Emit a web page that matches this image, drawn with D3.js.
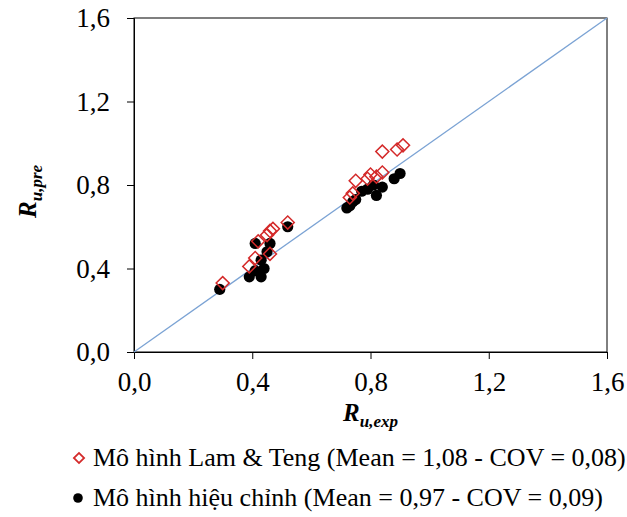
<!DOCTYPE html>
<html>
<head>
<meta charset="utf-8">
<script src="https://cdn.jsdelivr.net/npm/d3@7"></script>
<style>
  body { margin: 0; background: #fff; }
  text { font-family: "Liberation Serif", "Times New Roman", serif; }
</style>
</head>
<body>
<div id="chart"></div>
<script>
// tick values and labels
var ticks = [0, 0.4, 0.8, 1.2, 1.6];
var tickLabels = ["0,0", "0,4", "0,8", "1,2", "1,6"];

// Lam & Teng model (red diamonds)
var lamExp = [0.30, 0.39, 0.41, 0.46, 0.42, 0.45, 0.46, 0.47, 0.52, 0.73, 0.74, 0.75, 0.79, 0.80, 0.82, 0.84, 0.84, 0.89, 0.91];
var lamPre = [0.33, 0.41, 0.45, 0.47, 0.53, 0.56, 0.58, 0.59, 0.62, 0.74, 0.76, 0.82, 0.83, 0.85, 0.84, 0.86, 0.96, 0.97, 0.99];

// modified model (black dots)
var modExp = [0.29, 0.39, 0.43, 0.41, 0.44, 0.43, 0.45, 0.41, 0.46, 0.52, 0.72, 0.73, 0.74, 0.75, 0.77, 0.79, 0.82, 0.84, 0.81, 0.88, 0.90];
var modPre = [0.30, 0.36, 0.36, 0.39, 0.40, 0.44, 0.48, 0.52, 0.52, 0.60, 0.69, 0.70, 0.72, 0.73, 0.77, 0.78, 0.75, 0.79, 0.80, 0.83, 0.855];

var legendLabels = [
  "Mô hình Lam & Teng (Mean = 1,08 - COV = 0,08)",
  "Mô hình hiệu chỉnh (Mean = 0,97 - COV = 0,09)"
];

var width = 627, height = 517;
var margin = {top: 18, left: 134, right: 20, bottom: 165};

var svg = d3.select("#chart").append("svg")
  .attr("width", width)
  .attr("height", height);

var x = d3.scaleLinear().domain([0, 1.6]).range([margin.left, width - margin.right]);
var y = d3.scaleLinear().domain([0, 1.6]).range([height - margin.bottom, margin.top]);

// frame
svg.append("rect")
  .attr("x", x(0)).attr("y", y(1.6))
  .attr("width", x(1.6) - x(0)).attr("height", y(0) - y(1.6))
  .attr("fill", "none").attr("stroke", "#000").attr("stroke-width", 1);

// axes
var xAxis = d3.axisBottom(x).tickValues(ticks).tickSize(7).tickPadding(13)
  .tickFormat(function(d, i){ return tickLabels[i]; });
var yAxis = d3.axisLeft(y).tickValues(ticks).tickSize(7).tickPadding(17)
  .tickFormat(function(d, i){ return tickLabels[i]; });

var gx = svg.append("g").attr("transform", "translate(0," + y(0) + ")").call(xAxis);
var gy = svg.append("g").attr("transform", "translate(" + x(0) + ",0)").call(yAxis);
[gx, gy].forEach(function(g){
  g.select(".domain").attr("stroke", "#000");
  g.selectAll(".tick line").attr("stroke", "#000");
  g.selectAll("text").attr("font-size", "27px").attr("fill", "#000")
    .style("font-family", "Liberation Serif");
});

// 1:1 line
svg.append("line")
  .attr("x1", x(0)).attr("y1", y(0))
  .attr("x2", x(1.6)).attr("y2", y(1.6))
  .attr("stroke", "#7ba3d4").attr("stroke-width", 1.3);

// modified model dots
svg.append("g").selectAll("circle")
  .data(d3.range(modExp.length)).enter().append("circle")
  .attr("cx", function(i){ return x(modExp[i]); })
  .attr("cy", function(i){ return y(modPre[i]); })
  .attr("r", 5.6)
  .attr("fill", "#000");

// Lam & Teng diamonds
var diamond = d3.symbol().type(d3.symbolSquare).size(85);
svg.append("g").selectAll("path")
  .data(d3.range(lamExp.length)).enter().append("path")
  .attr("d", diamond)
  .attr("transform", function(i){ return "translate(" + x(lamExp[i]) + "," + y(lamPre[i]) + ") rotate(45)"; })
  .attr("fill", "none")
  .attr("stroke", "#d42a2a")
  .attr("stroke-width", 1.5);

// axis titles
var xt = svg.append("text")
  .attr("x", 343).attr("y", 421)
  .attr("font-size", "25px").attr("font-weight", "bold").attr("font-style", "italic");
xt.append("tspan").text("R");
xt.append("tspan").attr("font-size", "17px").attr("dy", 6).text("u,exp");

var yt = svg.append("text")
  .attr("transform", "translate(36,218) rotate(-90)")
  .attr("font-size", "25px").attr("font-weight", "bold").attr("font-style", "italic");
yt.append("tspan").text("R");
yt.append("tspan").attr("font-size", "17px").attr("dy", 6).text("u,pre");

// legend
var legendDiamond = d3.symbol().type(d3.symbolSquare).size(52);
var lg = svg.append("g");
lg.append("path")
  .attr("d", legendDiamond)
  .attr("transform", "translate(79,458) rotate(45)")
  .attr("fill", "none").attr("stroke", "#d42a2a").attr("stroke-width", 1.8);
lg.append("circle").attr("cx", 78).attr("cy", 498).attr("r", 4.8).attr("fill", "#000");
lg.selectAll("text.leg").data(legendLabels).enter().append("text")
  .attr("class", "leg")
  .attr("x", 93)
  .attr("y", function(d, i){ return 466 + i * 40; })
  .attr("font-size", "26px")
  .text(function(d){ return d; });
</script>
</body>
</html>
